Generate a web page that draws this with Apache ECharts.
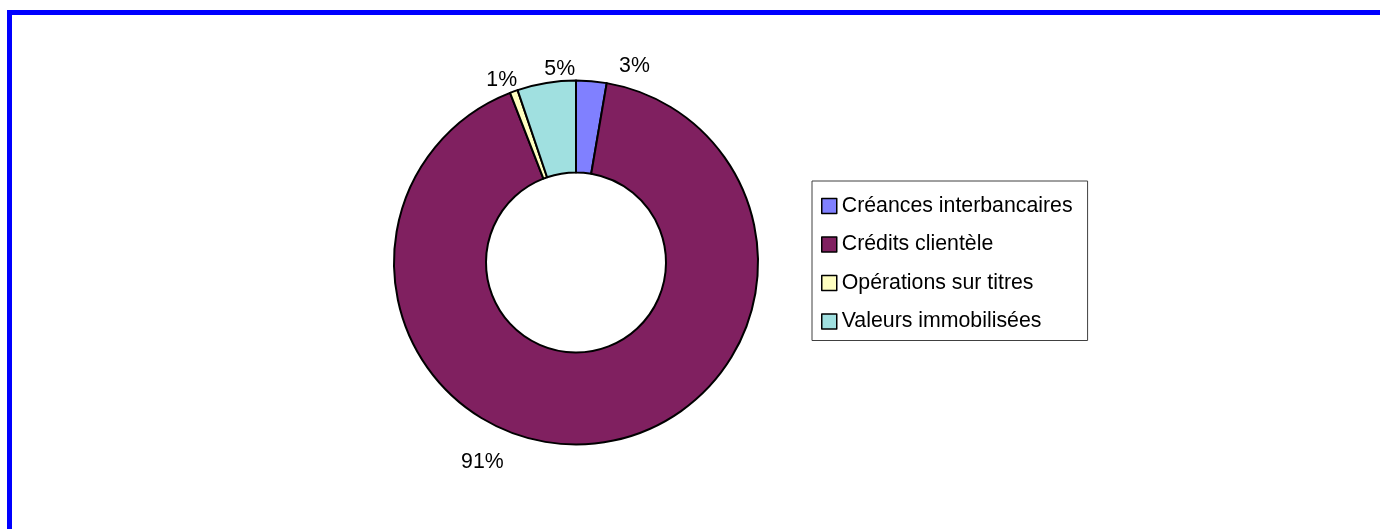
<!DOCTYPE html>
<html>
<head>
<meta charset="utf-8">
<title>Répartition des emplois</title>
<script src="https://cdn.jsdelivr.net/npm/echarts@6/dist/echarts.min.js"></script>
<style>
  html, body { margin: 0; padding: 0; background: #fff; }
  #chart { width: 1380px; height: 529px; }
</style>
</head>
<body>
<div id="chart"></div>
<script>
// Share of each asset item (in %), clockwise from 12 o'clock
const categories = [
  'Créances interbancaires',
  'Crédits clientèle',
  'Opérations sur titres',
  'Valeurs immobilisées'
];
const shares = [2.7, 91.4, 0.7, 5.2];
const colors = ['#8080FF', '#802060', '#FFFFC0', '#A0E0E0'];

// Nudges for the percentage labels, relative to the default outside spot
const labelNudge = [[22, -7], [-139, 11], [11, -4], [35, -6]];

const FONT = '"Liberation Sans", Arial, sans-serif';

const chart = echarts.init(document.getElementById('chart'), null, { renderer: 'canvas' });

chart.setOption({
  backgroundColor: '#ffffff',
  animation: false,
  graphic: [
    // blue frame: top and left edges
    { type: 'rect', shape: { x: 7, y: 10, width: 1373, height: 5 }, style: { fill: '#0000FF' } },
    { type: 'rect', shape: { x: 7, y: 10, width: 5, height: 519 }, style: { fill: '#0000FF' } }
  ],
  legend: {
    orient: 'vertical',
    left: 812,
    top: 181,
    padding: [13, 15, 7, 9],
    itemGap: 14.5,
    itemWidth: 15,
    itemHeight: 15,
    icon: 'rect',
    borderColor: '#404040',
    borderWidth: 1,
    backgroundColor: '#ffffff',
    itemStyle: { borderColor: '#000', borderWidth: 1.5 },
    textStyle: { fontFamily: FONT, fontSize: 21.3, lineHeight: 24, color: '#000' },
    data: categories
  },
  series: [{
    type: 'pie',
    center: [576, 262.5],
    radius: [90, 182],
    startAngle: 90,
    clockwise: true,
    avoidLabelOverlap: false,
    emphasis: { disabled: true },
    itemStyle: { borderColor: '#000', borderWidth: 2 },
    label: {
      show: true,
      position: 'outside',
      fontFamily: FONT,
      fontSize: 21.3,
      color: '#000',
      formatter: p => Math.round(p.value) + '%'
    },
    labelLine: { show: false, length: 8, length2: 0 },
    labelLayout: p => ({ dx: labelNudge[p.dataIndex][0], dy: labelNudge[p.dataIndex][1] }),
    data: categories.map((name, i) => ({
      name,
      value: shares[i],
      itemStyle: { color: colors[i] }
    }))
  }]
});
</script>
</body>
</html>
